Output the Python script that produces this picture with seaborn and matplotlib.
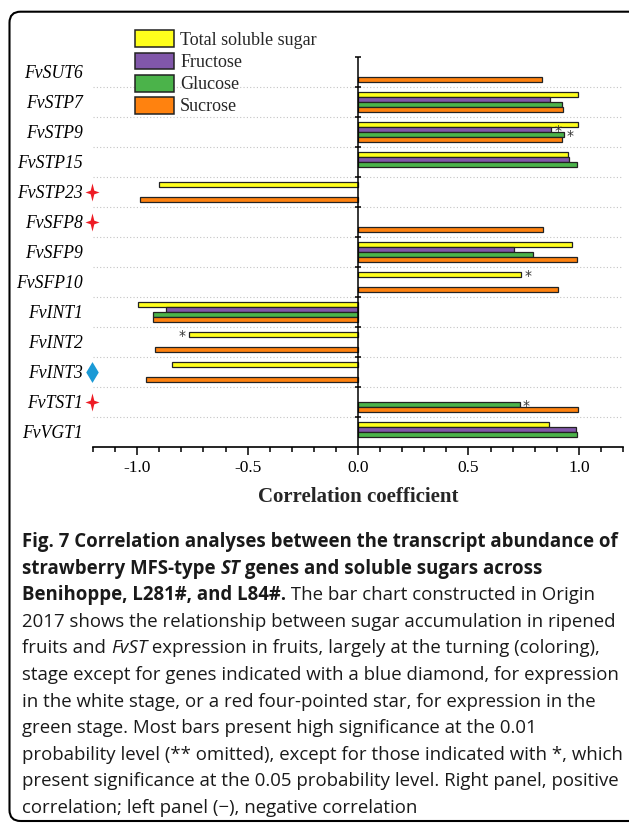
import numpy as np
import pandas as pd
import matplotlib
matplotlib.use("Agg")
import matplotlib.pyplot as plt
import seaborn as sns
from matplotlib.patches import Patch, FancyBboxPatch
from matplotlib.path import Path
from matplotlib.transforms import IdentityTransform

# ---------------- data ----------------
genes = ["FvSUT6", "FvSTP7", "FvSTP9", "FvSTP15", "FvSTP23", "FvSFP8", "FvSFP9",
         "FvSFP10", "FvINT1", "FvINT2", "FvINT3", "FvTST1", "FvVGT1"]
sugars = ["Total soluble sugar", "Fructose", "Glucose", "Sucrose"]
nan = np.nan
total_sugar = [nan, 0.994, 0.994, 0.952, -0.903, nan, 0.970, 0.740, -0.994, -0.767, -0.843, nan, 0.867]
fructose    = [nan, 0.868, 0.876, 0.956, nan, nan, 0.707, nan, -0.871, nan, nan, nan, 0.988]
glucose     = [nan, 0.926, 0.933, 0.990, nan, nan, 0.794, nan, -0.930, nan, nan, 0.734, 0.990]
sucrose     = [0.832, 0.930, 0.926, nan, -0.986, 0.838, 0.991, 0.906, -0.930, -0.920, -0.962, 0.994, nan]
colors = ["#FFFF1C", "#8157AA", "#4BB34A", "#FF820F"]
significant_05 = [("FvSTP9", "Fructose"), ("FvSTP9", "Glucose"), ("FvSFP10", "Total soluble sugar"),
                  ("FvINT2", "Total soluble sugar"), ("FvTST1", "Glucose")]
green_stage = ["FvSTP23", "FvSFP8", "FvTST1"]
white_stage = ["FvINT3"]
xtick_vals = [-1.0, -0.5, 0.0, 0.5, 1.0]
xtick_labels = ["-1.0", "-0.5", "0.0", "0.5", "1.0"]

df = pd.DataFrame({"gene": genes, sugars[0]: total_sugar, sugars[1]: fructose,
                   sugars[2]: glucose, sugars[3]: sucrose})
long = df.melt(id_vars="gene", var_name="sugar", value_name="r").dropna()

# ---------------- style ----------------
sns.set_theme(style="white")
plt.rcParams["font.family"] = ["Liberation Serif", "DejaVu Serif"]
plt.rcParams["axes.edgecolor"] = "black"
plt.rcParams["xtick.color"] = "black"
plt.rcParams["ytick.color"] = "black"

W, H = 629, 824
fig = plt.figure(figsize=(W / 100, H / 100), dpi=100)
fig.patch.set_facecolor("white")
ax_top, ax_bot, ax_left, ax_right = 56.7, 446.7, 93, 623
ax = fig.add_axes([ax_left / W, 1 - ax_bot / H, (ax_right - ax_left) / W, (ax_bot - ax_top) / H])
ax.patch.set_alpha(0)

group_w = 2 / 3
sns.barplot(data=long, y="gene", x="r", hue="sugar", order=genes, hue_order=sugars,
            palette=colors, orient="h", width=group_w, saturation=1, errorbar=None,
            edgecolor="#222222", linewidth=0.9, legend=False, ax=ax, zorder=2)

ax.set_xlim(-1.2, 1.2)
ax.set_ylim(len(genes) - 0.5, -0.5)

for s in ["top", "right", "left"]:
    ax.spines[s].set_visible(False)
ax.spines["bottom"].set_linewidth(1.2)
ax.spines["bottom"].set_color("black")

ax.set_xticks(xtick_vals)
ax.set_xticklabels(xtick_labels)
ax.set_xticks(np.round(np.arange(-1.2, 1.21, 0.1), 2), minor=True)
ax.tick_params(axis="x", which="major", length=5.8, width=1.1, direction="out", pad=3.5,
               labelsize=12.5, bottom=True)
ax.tick_params(axis="x", which="minor", length=3.3, width=1.1, direction="out", bottom=True)
ax.tick_params(axis="y", which="both", length=0, pad=7.2, labelsize=12.7)
for lab in ax.get_yticklabels():
    lab.set_fontstyle("italic")
ax.set_ylabel("")
ax.set_xlabel("Correlation coefficient", fontsize=15, fontweight="bold")
ax.xaxis.set_label_coords(0.5, (ax_bot - 497) / (ax_bot - ax_top))
ax.xaxis.label.set_va("center")

# separators and zero axis
bounds = np.arange(0.5, len(genes) - 1, 1.0)
ax.hlines(bounds, -1.2, 1.2, colors="#c4c4c4", linestyles=(0, (1, 2)), lw=0.8, zorder=0)
ax.axvline(0, color="black", lw=1.1, zorder=4)
ax.plot(np.zeros(len(genes)), np.arange(-0.5, len(genes) - 1, 1.0), marker="_", ms=5,
        mew=1.1, ls="none", color="black", clip_on=False, zorder=4)

# significance asterisks
bar_h = group_w / len(sugars)
for g, s in significant_05:
    gi, si = genes.index(g), sugars.index(s)
    val = df.loc[gi, s]
    y = gi - group_w / 2 + (si + 0.5) * bar_h
    off = 0.012 if val > 0 else -0.012
    ax.text(val + off, y + 0.05, "*", ha="left" if val > 0 else "right", va="center",
            fontsize=10, color="#333333", family="DejaVu Sans", zorder=5)

# stage markers next to gene labels
star = Path([(0, 1), (0.2, 0.2), (0.78, 0), (0.2, -0.2), (0, -1), (-0.2, -0.2),
             (-0.78, 0), (-0.2, 0.2), (0, 1)],
            [Path.MOVETO] + [Path.LINETO] * 7 + [Path.CLOSEPOLY])
diamond = Path([(0, 1), (0.6, 0), (0, -1), (-0.6, 0), (0, 1)],
               [Path.MOVETO] + [Path.LINETO] * 3 + [Path.CLOSEPOLY])
trans = ax.get_yaxis_transform()
mx = (92 - ax_left) / (ax_right - ax_left)
ax.plot([mx] * len(green_stage), [genes.index(g) for g in green_stage], ls="none",
        marker=star, ms=13, color="#EE1C25", mec="none", transform=trans, clip_on=False, zorder=6)
ax.plot([mx] * len(white_stage), [genes.index(g) for g in white_stage], ls="none",
        marker=diamond, ms=15, color="#1B9AD6", mec="none", transform=trans, clip_on=False, zorder=6)

# legend
handles = [Patch(facecolor=c, edgecolor="#222222", lw=1.1) for c in colors]
ax.legend(handles, sugars, loc="upper left", bbox_to_anchor=(135 / W, 1 - 30.5 / H),
          bbox_transform=fig.transFigure, frameon=False, fontsize=13, handlelength=2.17,
          handleheight=1.05, labelspacing=0.2, handletextpad=0.33, borderpad=0,
          borderaxespad=0)

# ---------------- caption ----------------
caption = [
    [("Fig. 7 Correlation analyses between the transcript abundance of", "bold", "normal")],
    [("strawberry MFS-type ", "bold", "normal"), ("ST", "bold", "italic"),
     (" genes and soluble sugars across", "bold", "normal")],
    [("Benihoppe, L281#, and L84#.", "bold", "normal"),
     (" The bar chart constructed in Origin", "normal", "normal")],
    [("2017 shows the relationship between sugar accumulation in ripened", "normal", "normal")],
    [("fruits and ", "normal", "normal"), ("FvST", "normal", "italic"),
     (" expression in fruits, largely at the turning (coloring),", "normal", "normal")],
    [("stage except for genes indicated with a blue diamond, for expression", "normal", "normal")],
    [("in the white stage, or a red four-pointed star, for expression in the", "normal", "normal")],
    [("green stage. Most bars present high significance at the 0.01", "normal", "normal")],
    [("probability level (** omitted), except for those indicated with *, which", "normal", "normal")],
    [("present significance at the 0.05 probability level. Right panel, positive", "normal", "normal")],
    [("correlation; left panel (\u2212), negative correlation", "normal", "normal")],
]
renderer = fig.canvas.get_renderer()
cap_fs = 13.4
cap_family = ["Open Sans", "DejaVu Sans"]


def text_width(txt, weight, style):
    t1 = fig.text(0, 0, txt + "|", fontsize=cap_fs, fontweight=weight, fontstyle=style, family=cap_family)
    t2 = fig.text(0, 0, "|", fontsize=cap_fs, fontweight=weight, fontstyle=style, family=cap_family)
    w = t1.get_window_extent(renderer).width - t2.get_window_extent(renderer).width
    t1.remove()
    t2.remove()
    return w


base0, step, x0 = 547, 26.6, 22
for i, line in enumerate(caption):
    x = x0
    yb = base0 + i * step
    for txt, weight, style in line:
        fig.text(x / W, 1 - yb / H, txt, fontsize=cap_fs, fontweight=weight, fontstyle=style,
                 family=cap_family, va="baseline", ha="left", color="#1a1a1a")
        x += text_width(txt, weight, style)

# frame
frame = FancyBboxPatch((9.5, 3.0), 700, 812.3 - 3.0, boxstyle="round,pad=0,rounding_size=11",
                       transform=IdentityTransform(), fill=False, lw=1.5, ec="black")
fig.add_artist(frame)

fig.savefig("out.png", dpi=100)
